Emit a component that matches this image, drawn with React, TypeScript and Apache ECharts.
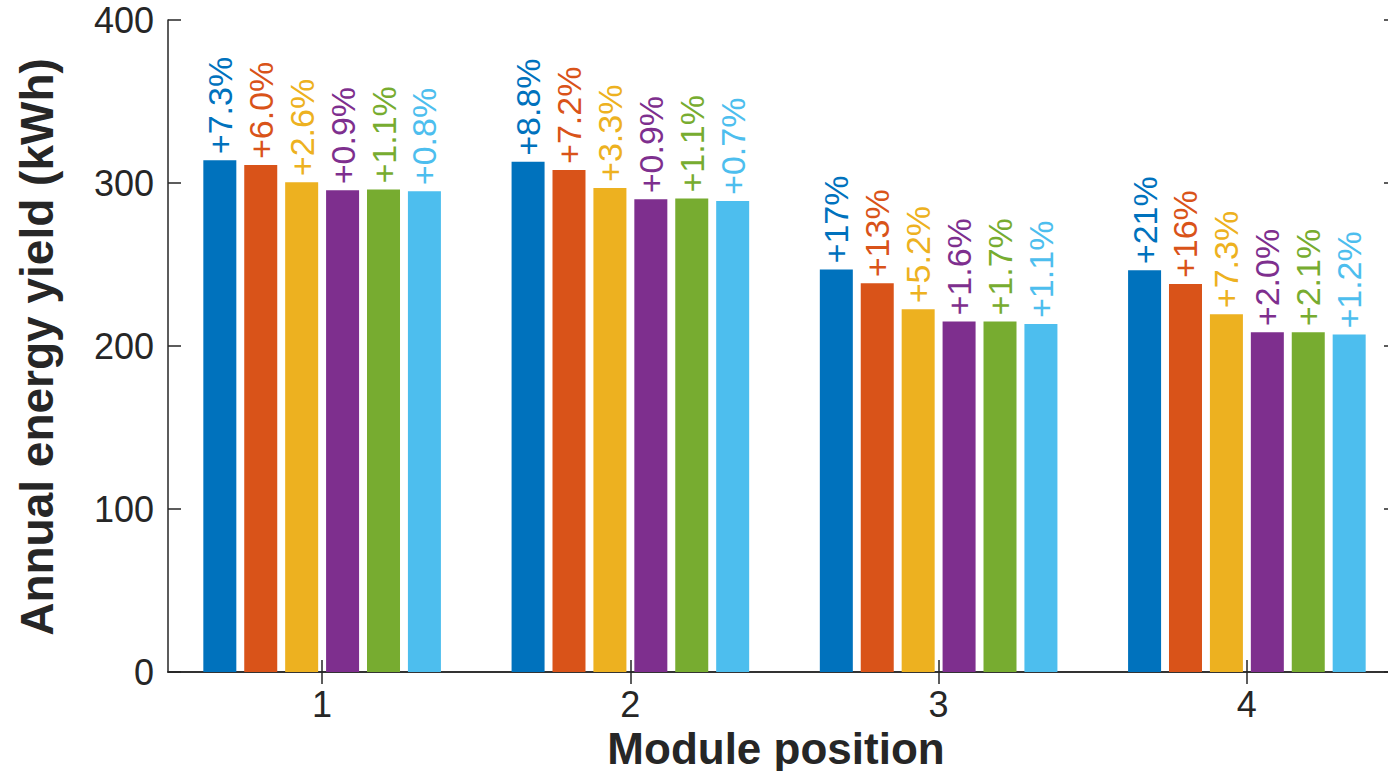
import React, { useEffect, useRef } from "react";
import * as echarts from "echarts";

const categories = ["1", "2", "3", "4"];
const seriesA = [314, 313, 247, 246.5];
const seriesB = [311, 308, 238.5, 238];
const seriesC = [300.5, 297, 222.5, 219.5];
const seriesD = [295.5, 290, 215, 208.5];
const seriesE = [296, 290.5, 215, 208.5];
const seriesF = [295, 289, 213.5, 207];
const labelsA = ["+7.3%", "+8.8%", "+17%", "+21%"];
const labelsB = ["+6.0%", "+7.2%", "+13%", "+16%"];
const labelsC = ["+2.6%", "+3.3%", "+5.2%", "+7.3%"];
const labelsD = ["+0.9%", "+0.9%", "+1.6%", "+2.0%"];
const labelsE = ["+1.1%", "+1.1%", "+1.7%", "+2.1%"];
const labelsF = ["+0.8%", "+0.7%", "+1.1%", "+1.2%"];
const yTicks = [0, 100, 200, 300, 400];
const colors = ["#0072BD", "#D95319", "#EDB120", "#7E2F8E", "#77AC30", "#4DBEEE"];

const FONT = "'Liberation Sans', Arial, Helvetica, sans-serif";
const INK = "#262626";

export default function App() {
  const ref = useRef<HTMLDivElement>(null);
  useEffect(() => {
    document.body.style.margin = "0";
    const chart = echarts.init(ref.current!, undefined, { renderer: "svg" });
    const values = [seriesA, seriesB, seriesC, seriesD, seriesE, seriesF];
    const labels = [labelsA, labelsB, labelsC, labelsD, labelsE, labelsF];
    const axisLine = { show: true, lineStyle: { color: INK, width: 1.5 } };
    chart.setOption({
      animation: false,
      backgroundColor: "#ffffff",
      grid: { left: 168, top: 20, width: 1233, height: 652, containLabel: false },
      xAxis: [
        {
          type: "category",
          data: categories,
          position: "bottom",
          axisLine,
          axisTick: { show: true, inside: true, alignWithLabel: true, length: 12, lineStyle: { color: INK, width: 1.5 } },
          axisLabel: { fontSize: 36, color: INK, fontFamily: FONT, margin: 14 },
          splitLine: { show: false },
        },
        {
          type: "category",
          data: categories,
          position: "top",
          axisLine,
          axisTick: { show: true, inside: true, alignWithLabel: true, length: 12, lineStyle: { color: INK, width: 1.5 } },
          axisLabel: { show: false },
          splitLine: { show: false },
        },
      ],
      yAxis: [
        {
          type: "value",
          min: yTicks[0],
          max: yTicks[yTicks.length - 1],
          interval: 100,
          position: "left",
          axisLine,
          axisTick: { show: true, inside: true, length: 13, lineStyle: { color: INK, width: 1.5 } },
          axisLabel: { fontSize: 36, color: INK, fontFamily: FONT, margin: 14 },
          splitLine: { show: false },
        },
        {
          type: "value",
          min: yTicks[0],
          max: yTicks[yTicks.length - 1],
          interval: 100,
          position: "right",
          axisLine,
          axisTick: { show: true, inside: true, length: 17, lineStyle: { color: INK, width: 1.5 } },
          axisLabel: { show: false },
          splitLine: { show: false },
        },
      ],
      series: values.map((v, i) => ({
        type: "bar",
        xAxisIndex: 0,
        yAxisIndex: 0,
        data: v,
        barWidth: 33,
        barGap: "24%",
        itemStyle: { color: colors[i] },
        label: {
          show: true,
          position: "top",
          rotate: 90,
          align: "left",
          verticalAlign: "middle",
          distance: 6,
          fontSize: 34,
          fontFamily: FONT,
          color: colors[i],
          formatter: (p: any) => labels[i][p.dataIndex],
        },
      })),
      graphic: [
        {
          type: "text",
          x: 37,
          y: 347,
          rotation: Math.PI / 2,
          style: {
            text: "Annual energy yield (kWh)",
            fontSize: 46,
            fontWeight: "bold",
            fontFamily: FONT,
            fill: INK,
            align: "center",
            verticalAlign: "middle",
          },
        },
        {
          type: "text",
          x: 776,
          y: 748,
          style: {
            text: "Module position",
            fontSize: 44,
            fontWeight: "bold",
            fontFamily: FONT,
            fill: INK,
            align: "center",
            verticalAlign: "middle",
          },
        },
      ],
    });
    return () => chart.dispose();
  }, []);
  return (
    <div style={{ position: "fixed", left: 0, top: 0, width: 1388, height: 771, overflow: "hidden", background: "#fff" }}>
      <div ref={ref} style={{ position: "absolute", left: 0, top: 0, width: 1420, height: 771 }} />
    </div>
  );
}
